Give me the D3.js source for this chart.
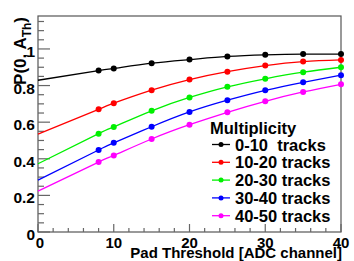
<!DOCTYPE html>
<html>
<head>
<meta charset="utf-8">
<script src="https://cdn.jsdelivr.net/npm/d3@7"></script>
<style>
  body { margin: 0; background: #fff; }
  text { font-family: "Liberation Sans", Arial, sans-serif; font-weight: bold; }
</style>
</head>
<body>
<div class="chart"></div>
<script>
// pad thresholds where points were measured
const thresholds = [8, 10, 15, 20, 25, 30, 35, 40];
const seriesNames = ['0-10  tracks', '10-20 tracks', '20-30 tracks', '30-40 tracks', '40-50 tracks'];
const seriesColors = ['#000000', '#ff0000', '#00f000', '#0000ff', '#ff00ff'];
// fitted curve value at threshold 0
const fitStart = [0.829, 0.535, 0.373, 0.283, 0.223];
const mult0to10 = [0.882, 0.893, 0.922, 0.942, 0.959, 0.968, 0.972, 0.972];
const mult10to20 = [0.670, 0.704, 0.775, 0.833, 0.876, 0.909, 0.931, 0.940];
const mult20to30 = [0.537, 0.574, 0.662, 0.735, 0.793, 0.837, 0.873, 0.900];
const mult30to40 = [0.448, 0.487, 0.575, 0.656, 0.720, 0.774, 0.818, 0.857];
const mult40to50 = [0.382, 0.418, 0.508, 0.586, 0.654, 0.714, 0.765, 0.807];
const allSeries = [mult0to10, mult10to20, mult20to30, mult30to40, mult40to50];
const xTicks = [0, 10, 20, 30, 40];
const yTicks = [0, 0.2, 0.4, 0.6, 0.8, 1];

const W = 354, H = 261;
const margin = {top: 16, right: 13, bottom: 29, left: 38};
const width = W - margin.left - margin.right;
const height = H - margin.top - margin.bottom;

const xScale = d3.scaleLinear().domain([0, 40]).range([0, width]);
const yScale = d3.scaleLinear().domain([0, 1.18]).range([height, 0]);

const svg = d3.select('.chart').append('svg')
    .attr('width', W).attr('height', H);
const g = svg.append('g')
    .attr('transform', `translate(${margin.left},${margin.top})`);

// frame
g.append('rect')
    .attr('width', width).attr('height', height)
    .attr('fill', 'none').attr('stroke', '#555').attr('stroke-width', 1.2);

// y ticks
const yMinor = d3.range(0, 1.1801, 0.05);
g.selectAll('.ymin').data(yMinor).enter().append('line')
    .attr('x1', 0).attr('x2', d => (Math.abs(d * 5 - Math.round(d * 5)) < 1e-6) ? 12 : 6)
    .attr('y1', d => yScale(d)).attr('y2', d => yScale(d))
    .attr('stroke', '#666').attr('stroke-width', 1.2);
g.selectAll('.ylab').data(yTicks).enter().append('text')
    .attr('x', -3).attr('y', d => yScale(d) + 8)
    .attr('text-anchor', 'end').attr('font-size', 15.5)
    .text(d => d3.format('~g')(d));

// x ticks
const xMinor = d3.range(0, 40.01, 2);
g.selectAll('.xmin').data(xMinor).enter().append('line')
    .attr('x1', d => xScale(d)).attr('x2', d => xScale(d))
    .attr('y1', height).attr('y2', d => d % 10 === 0 ? height - 8 : height - 4)
    .attr('stroke', '#666').attr('stroke-width', 1.2);
g.selectAll('.xlab').data(xTicks).enter().append('text')
    .attr('x', d => xScale(d) + (d === 0 ? 2 : 0)).attr('y', height + 16)
    .attr('text-anchor', 'middle').attr('font-size', 15)
    .text(d => d);

// axis titles
g.append('text')
    .attr('x', width + 1).attr('y', height + 26)
    .attr('text-anchor', 'end').attr('font-size', 15)
    .text('Pad Threshold [ADC channel]');

const yt = svg.append('text')
    .attr('transform', 'translate(26,17) rotate(-90)')
    .attr('text-anchor', 'end').attr('font-size', 17);
yt.append('tspan').text('P(0, A');
yt.append('tspan').attr('font-size', 12).attr('dy', 5).text('Th');
yt.append('tspan').attr('dy', -5).text(')');

// curves and points
const line = d3.line()
    .x(d => xScale(d[0])).y(d => yScale(d[1]))
    .curve(d3.curveNatural);

allSeries.forEach((vals, i) => {
    const pts = [[0, fitStart[i]]].concat(thresholds.map((t, j) => [t, vals[j]]));
    g.append('path').attr('d', line(pts))
        .attr('fill', 'none').attr('stroke', seriesColors[i]).attr('stroke-width', 1.3);
    g.selectAll('.pt' + i).data(vals).enter().append('circle')
        .attr('cx', (d, j) => xScale(thresholds[j]))
        .attr('cy', d => yScale(d))
        .attr('r', 3)
        .attr('fill', seriesColors[i]);
});

// legend
svg.append('text')
    .attr('x', 210).attr('y', 134)
    .attr('font-size', 16.5)
    .text('Multiplicity');
const legend = svg.selectAll('.legend').data(seriesNames).enter().append('g')
    .attr('transform', (d, i) => `translate(0,${144.5 + i * 17.8})`);
legend.append('line')
    .attr('x1', 212).attr('x2', 230)
    .attr('stroke', (d, i) => seriesColors[i]).attr('stroke-width', 1.3);
legend.append('circle')
    .attr('cx', 221).attr('r', 2.5)
    .attr('fill', (d, i) => seriesColors[i]);
legend.append('text')
    .attr('x', 235).attr('y', 6)
    .attr('font-size', 16.5)
    .style('white-space', 'pre')
    .text(d => d);
</script>
</body>
</html>
